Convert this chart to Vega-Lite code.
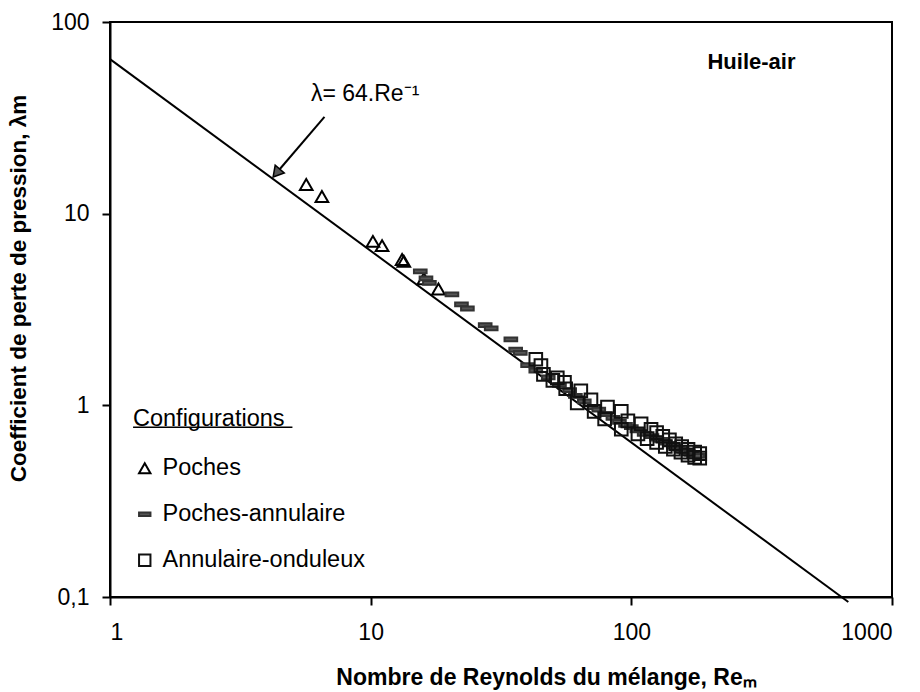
{
  "$schema": "https://vega.github.io/schema/vega-lite/v6.json",
  "width": 782,
  "height": 575,
  "autosize": {"type": "none"},
  "padding": {"left": 110, "top": 22, "right": 28, "bottom": 95},
  "background": "white",
  "config": {
    "font": "Liberation Sans",
    "view": {"stroke": "black", "strokeWidth": 2},
    "axis": {"grid": false, "domainColor": "black", "domainWidth": 2, "tickColor": "black", "tickWidth": 2, "tickSize": 8, "labelColor": "black", "labelFont": "Liberation Sans", "labelFontSize": 23, "titleFont": "Liberation Sans", "titleFontWeight": "bold", "titleColor": "black"}
  },
  "datasets": {
    "pts": [
      {"Re": 5.66, "lam": 14.2, "config": "Poches"},
      {"Re": 6.5, "lam": 12.3, "config": "Poches"},
      {"Re": 10.2, "lam": 7.17, "config": "Poches"},
      {"Re": 11.06, "lam": 6.81, "config": "Poches"},
      {"Re": 13.2, "lam": 5.76, "config": "Poches"},
      {"Re": 13.4, "lam": 5.65, "config": "Poches"},
      {"Re": 16.0, "lam": 4.58, "config": "Poches"},
      {"Re": 18.2, "lam": 4.05, "config": "Poches"},
      {"Re": 15.5, "lam": 5.0, "config": "Poches-annulaire"},
      {"Re": 16.3, "lam": 4.6, "config": "Poches-annulaire"},
      {"Re": 16.8, "lam": 4.35, "config": "Poches-annulaire"},
      {"Re": 20.5, "lam": 3.79, "config": "Poches-annulaire"},
      {"Re": 22.3, "lam": 3.36, "config": "Poches-annulaire"},
      {"Re": 23.5, "lam": 3.2, "config": "Poches-annulaire"},
      {"Re": 27.5, "lam": 2.62, "config": "Poches-annulaire"},
      {"Re": 29, "lam": 2.52, "config": "Poches-annulaire"},
      {"Re": 34.5, "lam": 2.21, "config": "Poches-annulaire"},
      {"Re": 36, "lam": 1.95, "config": "Poches-annulaire"},
      {"Re": 37.5, "lam": 1.88, "config": "Poches-annulaire"},
      {"Re": 40, "lam": 1.62, "config": "Poches-annulaire"},
      {"Re": 43, "lam": 1.52, "config": "Poches-annulaire"},
      {"Re": 48, "lam": 1.4, "config": "Poches-annulaire"},
      {"Re": 53, "lam": 1.28, "config": "Poches-annulaire"},
      {"Re": 58, "lam": 1.2, "config": "Poches-annulaire"},
      {"Re": 61, "lam": 1.12, "config": "Poches-annulaire"},
      {"Re": 66, "lam": 1.05, "config": "Poches-annulaire"},
      {"Re": 72, "lam": 0.98, "config": "Poches-annulaire"},
      {"Re": 75, "lam": 0.95, "config": "Poches-annulaire"},
      {"Re": 80, "lam": 0.9, "config": "Poches-annulaire"},
      {"Re": 85, "lam": 0.86, "config": "Poches-annulaire"},
      {"Re": 90, "lam": 0.82, "config": "Poches-annulaire"},
      {"Re": 95, "lam": 0.79, "config": "Poches-annulaire"},
      {"Re": 100, "lam": 0.77, "config": "Poches-annulaire"},
      {"Re": 105, "lam": 0.74, "config": "Poches-annulaire"},
      {"Re": 112, "lam": 0.71, "config": "Poches-annulaire"},
      {"Re": 120, "lam": 0.69, "config": "Poches-annulaire"},
      {"Re": 125, "lam": 0.67, "config": "Poches-annulaire"},
      {"Re": 130, "lam": 0.66, "config": "Poches-annulaire"},
      {"Re": 135, "lam": 0.64, "config": "Poches-annulaire"},
      {"Re": 140, "lam": 0.63, "config": "Poches-annulaire"},
      {"Re": 145, "lam": 0.61, "config": "Poches-annulaire"},
      {"Re": 150, "lam": 0.6, "config": "Poches-annulaire"},
      {"Re": 155, "lam": 0.59, "config": "Poches-annulaire"},
      {"Re": 160, "lam": 0.58, "config": "Poches-annulaire"},
      {"Re": 165, "lam": 0.57, "config": "Poches-annulaire"},
      {"Re": 170, "lam": 0.56, "config": "Poches-annulaire"},
      {"Re": 175, "lam": 0.55, "config": "Poches-annulaire"},
      {"Re": 180, "lam": 0.545, "config": "Poches-annulaire"},
      {"Re": 43, "lam": 1.74, "config": "Annulaire-onduleux"},
      {"Re": 45, "lam": 1.61, "config": "Annulaire-onduleux"},
      {"Re": 46, "lam": 1.45, "config": "Annulaire-onduleux"},
      {"Re": 50, "lam": 1.35, "config": "Annulaire-onduleux"},
      {"Re": 52, "lam": 1.39, "config": "Annulaire-onduleux"},
      {"Re": 55.4, "lam": 1.32, "config": "Annulaire-onduleux"},
      {"Re": 56, "lam": 1.22, "config": "Annulaire-onduleux"},
      {"Re": 62, "lam": 1.03, "config": "Annulaire-onduleux"},
      {"Re": 64, "lam": 1.19, "config": "Annulaire-onduleux"},
      {"Re": 70, "lam": 1.07, "config": "Annulaire-onduleux"},
      {"Re": 72, "lam": 0.93, "config": "Annulaire-onduleux"},
      {"Re": 79, "lam": 0.85, "config": "Annulaire-onduleux"},
      {"Re": 81, "lam": 0.98, "config": "Annulaire-onduleux"},
      {"Re": 91.5, "lam": 0.93, "config": "Annulaire-onduleux"},
      {"Re": 91.5, "lam": 0.75, "config": "Annulaire-onduleux"},
      {"Re": 97, "lam": 0.83, "config": "Annulaire-onduleux"},
      {"Re": 106, "lam": 0.71, "config": "Annulaire-onduleux"},
      {"Re": 109, "lam": 0.8, "config": "Annulaire-onduleux"},
      {"Re": 115, "lam": 0.67, "config": "Annulaire-onduleux"},
      {"Re": 119, "lam": 0.75, "config": "Annulaire-onduleux"},
      {"Re": 125, "lam": 0.72, "config": "Annulaire-onduleux"},
      {"Re": 125, "lam": 0.64, "config": "Annulaire-onduleux"},
      {"Re": 132, "lam": 0.69, "config": "Annulaire-onduleux"},
      {"Re": 135, "lam": 0.61, "config": "Annulaire-onduleux"},
      {"Re": 140, "lam": 0.66, "config": "Annulaire-onduleux"},
      {"Re": 145, "lam": 0.59, "config": "Annulaire-onduleux"},
      {"Re": 148, "lam": 0.63, "config": "Annulaire-onduleux"},
      {"Re": 155, "lam": 0.57, "config": "Annulaire-onduleux"},
      {"Re": 156, "lam": 0.61, "config": "Annulaire-onduleux"},
      {"Re": 165, "lam": 0.59, "config": "Annulaire-onduleux"},
      {"Re": 165, "lam": 0.55, "config": "Annulaire-onduleux"},
      {"Re": 175, "lam": 0.57, "config": "Annulaire-onduleux"},
      {"Re": 175, "lam": 0.535, "config": "Annulaire-onduleux"},
      {"Re": 183, "lam": 0.56, "config": "Annulaire-onduleux"},
      {"Re": 183, "lam": 0.53, "config": "Annulaire-onduleux"}
    ],
    "fit": [
      {"Re": 1, "lam": 64},
      {"Re": 680, "lam": 0.0941}
    ],
    "arrow": [
      {"Re": 6.65, "lam": 32, "Re2": 4.35, "lam2": 16.3}
    ],
    "arrowhead": [
      {"Re": 4.35, "lam": 16.3}
    ],
    "eqlabel": [
      {"Re": 5.9, "lam": 42, "txt": "λ= 64.Re⁻¹"}
    ],
    "fluid": [
      {"Re": 289, "lam": 62, "txt": "Huile-air"}
    ],
    "underline": [
      {"Re": 1.226, "Re2": 5.01, "lam": 0.768}
    ]
  },
  "layer": [
    {
      "data": {"name": "fit"},
      "mark": {"type": "line", "color": "black", "strokeWidth": 2, "clip": false},
      "encoding": {
        "x": {"field": "Re", "type": "quantitative", "scale": {"type": "log", "domain": [1, 1000]},
          "axis": {"values": [1, 10, 100, 1000], "format": "d", "labelPadding": 16, "title": "Nombre de Reynolds du mélange, Reₘ", "titleFontSize": 23, "titlePadding": 22, "titleX": 436, "titleAlign": "center"}},
        "y": {"field": "lam", "type": "quantitative", "scale": {"type": "log", "domain": [0.1, 100]},
          "axis": {"values": [0.1, 1, 10, 100], "labelExpr": "datum.value < 1 ? '0,1' : format(datum.value, 'd')", "labelPadding": 13, "title": "Coefficient de perte de pression, λm", "titleFontSize": 22.5, "titlePadding": 20, "titleY": 266, "titleAlign": "center"}}
      }
    },
    {
      "data": {"name": "pts"},
      "mark": {"type": "point", "filled": true, "strokeWidth": 2, "size": 160, "opacity": 1},
      "encoding": {
        "x": {"field": "Re", "type": "quantitative"},
        "y": {"field": "lam", "type": "quantitative"},
        "shape": {"field": "config", "type": "nominal",
          "scale": {"domain": ["Poches", "Poches-annulaire", "Annulaire-onduleux"], "range": ["triangle-up", "M-1,-0.3H1V0.3H-1Z", "square"]},
          "legend": {"title": "Configurations", "orient": "none", "legendX": 23, "legendY": 385, "padding": 0, "titleFontSize": 23.5, "titleFontWeight": "normal", "titleColor": "black", "titlePadding": 26, "labelFontSize": 23.5, "labelColor": "black", "labelOffset": 6, "labelLimit": 400, "rowPadding": 21, "symbolSize": 130, "symbolStrokeWidth": 2, "symbolOpacity": 1}},
        "fill": {"field": "config", "type": "nominal",
          "scale": {"domain": ["Poches", "Poches-annulaire", "Annulaire-onduleux"], "range": ["transparent", "#555555", "transparent"]}},
        "stroke": {"field": "config", "type": "nominal",
          "scale": {"domain": ["Poches", "Poches-annulaire", "Annulaire-onduleux"], "range": ["black", "#333333", "#111111"]}}
      }
    },
    {
      "data": {"name": "arrow"},
      "mark": {"type": "rule", "color": "black", "strokeWidth": 2},
      "encoding": {
        "x": {"field": "Re", "type": "quantitative"},
        "y": {"field": "lam", "type": "quantitative"},
        "x2": {"field": "Re2"},
        "y2": {"field": "lam2"}
      }
    },
    {
      "data": {"name": "arrowhead"},
      "mark": {"type": "point", "shape": "triangle-up", "filled": true, "color": "#555555", "stroke": "black", "strokeWidth": 1.5, "size": 140, "angle": 220, "opacity": 1},
      "encoding": {
        "x": {"field": "Re", "type": "quantitative"},
        "y": {"field": "lam", "type": "quantitative"}
      }
    },
    {
      "data": {"name": "eqlabel"},
      "mark": {"type": "text", "align": "left", "baseline": "middle", "fontSize": 23, "color": "black"},
      "encoding": {
        "x": {"field": "Re", "type": "quantitative"},
        "y": {"field": "lam", "type": "quantitative"},
        "text": {"field": "txt"}
      }
    },
    {
      "data": {"name": "fluid"},
      "mark": {"type": "text", "align": "center", "baseline": "middle", "fontSize": 22, "fontWeight": "bold", "color": "black"},
      "encoding": {
        "x": {"field": "Re", "type": "quantitative"},
        "y": {"field": "lam", "type": "quantitative"},
        "text": {"field": "txt"}
      }
    },
    {
      "data": {"name": "underline"},
      "mark": {"type": "rule", "color": "black", "strokeWidth": 1.5},
      "encoding": {
        "x": {"field": "Re", "type": "quantitative"},
        "x2": {"field": "Re2"},
        "y": {"field": "lam", "type": "quantitative"}
      }
    }
  ]
}
